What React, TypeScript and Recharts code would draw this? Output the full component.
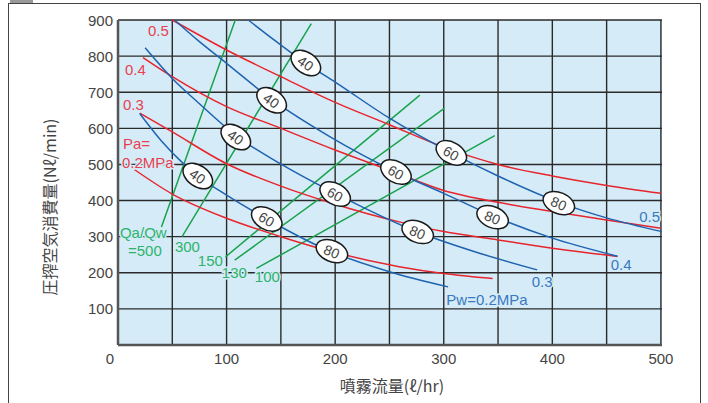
import { CartesianGrid, ComposedChart, Line, Scatter, XAxis, YAxis } from 'recharts'

// axes
const xTicks = [0, 100, 200, 300, 400, 500]
const yTicks = [100, 200, 300, 400, 500, 600, 700, 800, 900]
const gridX = [50, 100, 150, 200, 250, 300, 350, 400, 450, 500]

// Pa curves (air pressure), [spray flow, air consumption]
const pa02 = [[15, 486], [50, 418], [100, 351], [150, 300], [200, 256], [259, 217], [300, 198], [345, 184]]
const pa03 = [[20, 642], [50, 590], [100, 502], [150, 440], [200, 390], [259, 341], [300, 314], [350, 291], [400, 268], [450, 249], [460, 245]]
const pa04 = [[23, 796], [50, 743], [100, 660], [150, 600], [200, 540], [250, 484], [300, 428], [350, 395], [400, 370], [450, 346], [500, 323]]
const pa05 = [[50, 900], [100, 817], [150, 743], [200, 672], [250, 610], [300, 548], [350, 500], [400, 468], [450, 442], [500, 420]]

// Pw curves (water pressure)
const pw02 = [[20, 641], [40, 565], [60, 503], [73.5, 468], [100, 415], [137, 349], [195, 260], [250, 203], [304, 161]]
const pw03 = [[25, 823], [50, 738], [75, 668], [108.5, 580], [149, 503], [200, 420], [276, 313], [330, 257], [386, 208]]
const pw04 = [[52, 900], [75, 840], [100, 780], [141.5, 680], [195, 577], [256, 479], [300, 420], [347, 355], [400, 296], [460, 246]]
const pw05 = [[120, 900], [145, 842], [173, 780], [200, 728], [250, 628], [307, 532], [350, 468], [408, 393], [450, 352], [501, 314]]

// Qa/Qw ratio lines
const qa500 = [[40, 327], [108, 900]]
const qa300 = [[59, 300], [178, 890]]
const qa150 = [[99, 244], [278, 692]]
const qa130 = [[107.5, 235], [300.5, 655]]
const qa100 = [[127.5, 212], [347, 580]]

// angle labels on the Pw curves
const spreadLabels = [
  [173, 781, 40], [307, 532, 60], [406, 393, 80],
  [141.5, 678, 40], [256, 479, 60], [345, 354, 80],
  [108.5, 576, 40], [200, 418, 60], [276, 313, 80],
  [73.5, 468, 40], [137, 349, 60], [197, 260, 80],
]

const redNotes = [[27.6, 870, '0.5'], [6.4, 764, '0.4'], [4.6, 667, '0.3'], [4.6, 557, 'Pa='], [3.7, 505, '0.2MPa']]
const greenNotes = [[1.8, 311, 'Qa/Qw'], [9.2, 263, '=500'], [52.4, 274, '300'], [73.5, 233, '150'], [95.6, 201, '130'], [126, 190, '100']]
const blueNotes = [[480, 357, '0.5'], [453.8, 222, '0.4'], [381, 175, '0.3'], [302.4, 125, 'Pw=0.2MPa']]

const toPts = (arr: number[][]) => arr.map(([x, y]) => ({ x, y }))
const toNotes = (arr: (number | string)[][]) => arr.map(([x, y, text]) => ({ x, y, text }))

const RED = '#e8242c'
const BLUE = '#1f62b0'
const GREEN = '#19a24c'
const BG = '#d5ecf8'
const FONT = '"Liberation Sans", Arial, sans-serif'
const ANGLE: Record<number, number> = { 40: 35, 60: 30, 80: 23 }

const XTick = ({ x, y, payload }: any) => (
  <text x={payload.value === 0 ? x - 8 : x} y={y + 13} textAnchor="middle" dominantBaseline="central"
    fontFamily={FONT} fontSize={15} fill="#444">{payload.value}</text>
)

const YTick = ({ x, y, payload }: any) => (
  <text x={x - 5} y={y} textAnchor="end" dominantBaseline="central"
    fontFamily={FONT} fontSize={15} fill="#444">{payload.value}</text>
)

const Oval = (p: any) => {
  const a = ANGLE[p.payload.text] ?? 30
  return (
    <g transform={`rotate(${a} ${p.cx} ${p.cy})`}>
      <ellipse cx={p.cx} cy={p.cy} rx={16.5} ry={10.5} fill="#fff" stroke="#1a1a1a" strokeWidth={1.5} />
      <text x={p.cx} y={p.cy + 0.5} textAnchor="middle" dominantBaseline="central"
        fontFamily={FONT} fontSize={14} fill="#444">{p.payload.text}</text>
    </g>
  )
}

const noteShape = (color: string) => (p: any) => (
  <text x={p.cx} y={p.cy} dominantBaseline="central" fontFamily={FONT} fontSize={15}
    fill={color} stroke={BG} strokeWidth={3} paintOrder="stroke">{p.payload.text}</text>
)

function curve(data: number[][], color: string, key: string, linear = false) {
  return (
    <Line key={key} data={toPts(data)} dataKey="y" type={linear ? 'linear' : 'monotone'}
      stroke={color} strokeWidth={1.5} dot={false} activeDot={false} isAnimationActive={false} />
  )
}

export default function App() {
  return (
    <div style={{ position: 'absolute', left: 0, top: 0, width: 708, height: 403, background: '#fff', overflow: 'hidden' }}>
      <div style={{ position: 'absolute', left: 10, top: 0, width: 23, height: 3, background: '#999' }} />
      <div style={{ position: 'absolute', left: 8, top: 3, width: 693, height: 430, border: '1.5px solid #444', boxSizing: 'border-box' }} />
      <ComposedChart width={708} height={403} margin={{ top: 20, right: 46, bottom: 28, left: 58 }}>
        <CartesianGrid fill={BG} stroke="#2a2a2a" strokeWidth={1.4}
          horizontalValues={yTicks} verticalValues={gridX} />
        <XAxis type="number" dataKey="x" domain={[0, 500]} ticks={xTicks} height={30}
          axisLine={{ stroke: '#555', strokeWidth: 2.5 }} tickLine={false} tickSize={0} tickMargin={0} tick={<XTick />} />
        <YAxis type="number" dataKey="y" domain={[0, 900]} ticks={yTicks} width={60}
          axisLine={{ stroke: '#555', strokeWidth: 2.5 }} tickLine={false} tickSize={0} tickMargin={0} tick={<YTick />} />
        {curve(qa500, GREEN, 'q500', true)}
        {curve(qa300, GREEN, 'q300', true)}
        {curve(qa150, GREEN, 'q150', true)}
        {curve(qa130, GREEN, 'q130', true)}
        {curve(qa100, GREEN, 'q100', true)}
        {curve(pa02, RED, 'pa02')}
        {curve(pa03, RED, 'pa03')}
        {curve(pa04, RED, 'pa04')}
        {curve(pa05, RED, 'pa05')}
        {curve(pw02, BLUE, 'pw02')}
        {curve(pw03, BLUE, 'pw03')}
        {curve(pw04, BLUE, 'pw04')}
        {curve(pw05, BLUE, 'pw05')}
        <Scatter data={toNotes(spreadLabels)} dataKey="y" shape={Oval} isAnimationActive={false} />
        <Scatter data={toNotes(redNotes)} dataKey="y" shape={noteShape('#e8404f')} isAnimationActive={false} />
        <Scatter data={toNotes(greenNotes)} dataKey="y" shape={noteShape('#2db36b')} isAnimationActive={false} />
        <Scatter data={toNotes(blueNotes)} dataKey="y" shape={noteShape('#3a78c0')} isAnimationActive={false} />
      </ComposedChart>
      <div style={{
        position: 'absolute', left: 49, top: 207, transform: 'translate(-50%, -50%) rotate(-90deg)',
        whiteSpace: 'nowrap', fontFamily: '"Noto Sans CJK JP", sans-serif', fontSize: 16, color: '#444',
      }}>圧搾空気消費量(Nℓ/min)</div>
      <div style={{
        position: 'absolute', left: 392, top: 385, transform: 'translate(-50%, -50%)',
        whiteSpace: 'nowrap', fontFamily: '"Noto Sans CJK JP", sans-serif', fontSize: 16, color: '#444',
      }}>噴霧流量(ℓ/hr)</div>
    </div>
  )
}
